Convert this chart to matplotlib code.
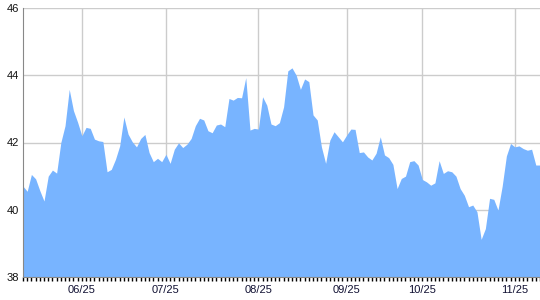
import matplotlib
matplotlib.use("Agg")
import matplotlib.pyplot as plt
from matplotlib.ticker import FixedLocator, MultipleLocator

values = [
    40.70, 40.55, 41.05, 40.92, 40.57, 40.26, 41.00, 41.18, 41.09, 42.00,
    42.50, 43.58, 42.95, 42.60, 42.20, 42.45, 42.42, 42.10, 42.05, 42.03,
    41.13, 41.20, 41.50, 41.90, 42.76, 42.25, 42.02, 41.87, 42.12, 42.24,
    41.70, 41.43, 41.53, 41.43, 41.65, 41.38, 41.80, 41.99, 41.85, 41.95,
    42.12, 42.50, 42.72, 42.67, 42.35, 42.29, 42.52, 42.55, 42.47, 43.31,
    43.26, 43.34, 43.33, 43.93, 42.37, 42.42, 42.40, 43.36, 43.11, 42.55,
    42.50, 42.59, 43.06, 44.13, 44.22, 44.00, 43.58, 43.89, 43.81, 42.82,
    42.67, 41.87, 41.38, 42.07, 42.32, 42.17, 42.02, 42.22, 42.40, 42.39,
    41.70, 41.72, 41.57, 41.48, 41.68, 42.17, 41.63, 41.55, 41.35, 40.63,
    40.93, 41.00, 41.43, 41.46, 41.33, 40.90, 40.83, 40.73, 40.80, 41.46,
    41.08, 41.16, 41.13, 41.00, 40.63, 40.43, 40.09, 40.14, 39.94, 39.12,
    39.44, 40.34, 40.31, 39.99, 40.70, 41.60, 41.97, 41.87, 41.90, 41.82,
    41.77, 41.80, 41.33, 41.33,
]
tick_positions = [14, 34, 56, 77, 95, 117]
tick_labels = ["06/25", "07/25", "08/25", "09/25", "10/25", "11/25"]
y_ticks = [38, 40, 42, 44, 46]

plt.rcParams["font.family"] = ["Liberation Sans", "DejaVu Sans"]

fig = plt.figure(figsize=(5.4, 3.0), dpi=100)
ax = fig.add_axes([23 / 540, 23 / 300, 517 / 540, 269 / 300])

x = list(range(len(values)))
ax.fill_between(x, 38, values, color="#78b4ff", linewidth=0, zorder=2)

ax.set_xlim(0, len(values) - 1)
ax.set_ylim(38, 46)
ax.set_yticks(y_ticks)
ax.set_yticklabels([str(v) for v in y_ticks])
ax.xaxis.set_major_locator(FixedLocator(tick_positions))
ax.set_xticklabels(tick_labels)
ax.xaxis.set_minor_locator(MultipleLocator(1))

ax.grid(True, which="major", color="#cccccc", linewidth=1, zorder=0)
ax.set_axisbelow(True)

ax.tick_params(axis="x", which="both", direction="out", length=3, width=1,
               color="black", labelsize=8, pad=3, labelcolor="#111133")
ax.tick_params(axis="y", which="both", length=0, labelsize=8, pad=3,
               labelcolor="#111111")

for side in ["top", "right"]:
    ax.spines[side].set_visible(False)
ax.spines["left"].set_color("#888888")
ax.spines["bottom"].set_color("#888888")
ax.spines["left"].set_zorder(3)

fig.savefig("out.png", dpi=100)
